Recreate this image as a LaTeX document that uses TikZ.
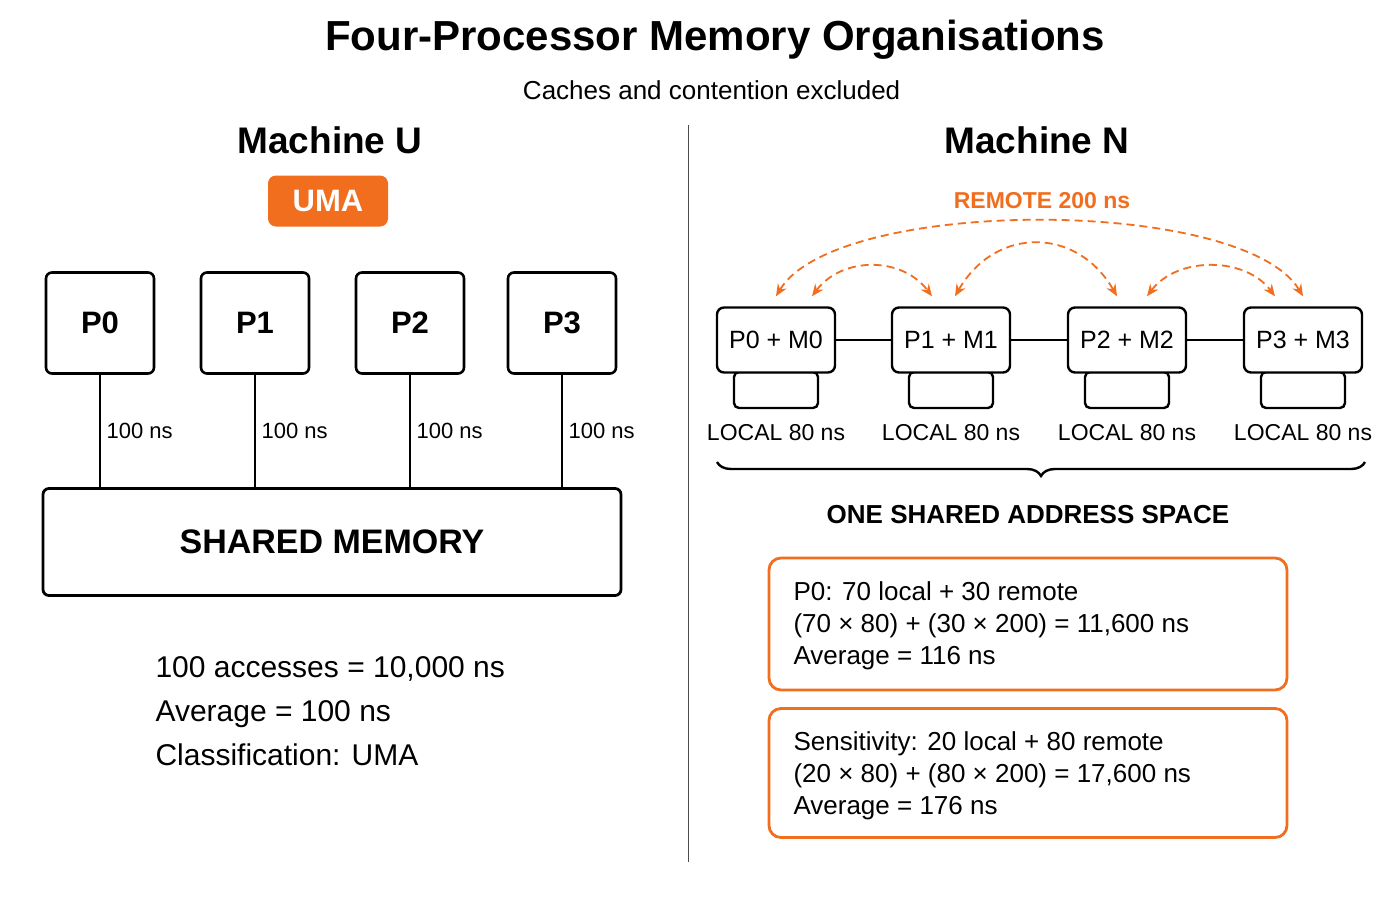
\documentclass[tikz,border=0pt]{standalone}
\usepackage{fontspec}
\setmainfont{Liberation Sans}
\usetikzlibrary{decorations.pathreplacing,calc,arrows.meta}
\definecolor{accent}{RGB}{240,110,30}
\newcommand{\fsz}[1]{\fontsize{#1}{#1}\selectfont}

\begin{document}
\begin{tikzpicture}[x=1pt,y=-1pt,
  proc/.style={draw, line width=2.6pt, rounded corners=6pt, minimum width=108pt, minimum height=101pt, font=\fsz{31}\bfseries},
  pm/.style={draw, line width=2.4pt, rounded corners=7pt, minimum width=118pt, minimum height=65pt, font=\fsz{25}},
  memb/.style={draw, line width=2.4pt, rounded corners=5pt, minimum width=84pt, minimum height=36pt},
  calcbox/.style={draw=accent, line width=2.8pt, rounded corners=12pt, minimum width=518pt},
  remote/.style={accent, line width=1.8pt, dash pattern=on 8pt off 5pt, {Stealth[length=12pt,width=10pt]}-{Stealth[length=12pt,width=10pt]}},
  lab/.style={font=\fsz{22}}]
\useasboundingbox (0,0) rectangle (1400,900);
\fill[white] (0,0) rectangle (1400,900);

% headings
\node (title) at (715,40) {\fsz{42}\bfseries Four-Processor Memory Organisations};
\node (sub) at (708,90) {\fsz{26} Caches and contention excluded};
\draw[line width=1pt, black!70] (688,125) -- (688,862);

% Machine U
\node (mu) at (330,140) {\fsz{37}\bfseries Machine U};
\node[fill=accent, rounded corners=8pt, minimum width=120pt, minimum height=51pt, text=white, font=\fsz{31}\bfseries] (uma) at (328,201) {UMA};
\node[draw, line width=2.8pt, rounded corners=6pt, minimum width=578pt, minimum height=107pt, font=\fsz{34}\bfseries] (shm) at (332,542) {SHARED MEMORY};
\foreach \i/\x in {0/100,1/255,2/410,3/562}{
  \node[proc] (p\i) at (\x,323) {P\i};
  \draw[line width=2.6pt] (p\i.south) -- (p\i.south |- shm.north)
    node[pos=0.5, right=2pt, lab] {100 ns};
}
\node[anchor=west, align=left, font=\fsz{30}] (sumu) at (152,711) {100 accesses = 10,000 ns\\[14pt]Average = 100 ns\\[14pt]Classification: UMA};

% Machine N
\node (mn) at (1037,140) {\fsz{37}\bfseries Machine N};
\node[text=accent, font=\fsz{23}\bfseries] (rem) at (1042,201) {REMOTE 200 ns};
\foreach \i/\x in {0/776,1/951,2/1127,3/1303}{
  \node[memb] (m\i) at (\x,390) {};
  \node[pm, fill=white] (n\i) at (\x,340) {P\i{} + M\i};
  \node[font=\fsz{23}] (l\i) at (\x,433) {LOCAL 80 ns};
}
\foreach \a/\b in {0/1,1/2,2/3}
  \draw[line width=2.6pt] (n\a) -- (n\b);

\coordinate (a0) at ($(n0.north)+(0,-10)$);
\coordinate (b0) at ($(n0.north)+(36,-10)$);
\coordinate (a1) at ($(n1.north)+(-19,-10)$);
\coordinate (b1) at ($(n1.north)+(4,-10)$);
\coordinate (a2) at ($(n2.north)+(-10,-10)$);
\coordinate (b2) at ($(n2.north)+(20,-10)$);
\coordinate (a3) at ($(n3.north)+(-28,-10)$);
\coordinate (b3) at ($(n3.north)+(0,-10)$);
\draw[remote] (b0) .. controls ++(30,-40) and ++(-30,-40) .. (a1);
\draw[remote] (b1) .. controls ++(40,-70) and ++(-40,-70) .. (a2);
\draw[remote] (b2) .. controls ++(30,-40) and ++(-30,-40) .. (a3);
\draw[remote] (a0) .. controls ++(60,-100) and ++(-60,-100) .. (b3);

\draw[decorate, decoration={brace, mirror, amplitude=14pt}, line width=2.4pt]
  (717,462) -- (1365,462);
\node[font=\fsz{26}\bfseries] (addr) at (1028,515) {ONE SHARED ADDRESS SPACE};

\node[calcbox, minimum height=132pt] (c1) at (1028,624) {};
\node[anchor=west, align=left, font=\fsz{26}] (t1) at (790,626) {P0: 70 local + 30 remote\\[6pt](70 × 80) + (30 × 200) = 11,600 ns\\[6pt]Average = 116 ns};
\node[calcbox, minimum height=129pt] (c2) at (1028,773) {};
\node[anchor=west, align=left, font=\fsz{26}] (t2) at (790,776) {Sensitivity: 20 local + 80 remote\\[6pt](20 × 80) + (80 × 200) = 17,600 ns\\[6pt]Average = 176 ns};
\end{tikzpicture}
\end{document}
